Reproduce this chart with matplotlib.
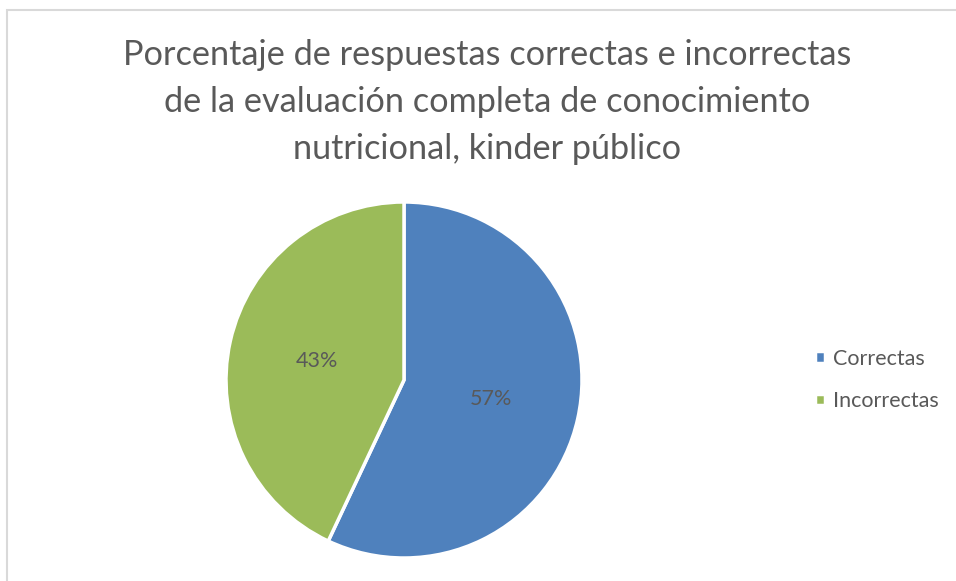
import matplotlib.pyplot as plt
from matplotlib.patches import Rectangle

# Datos
categorias = ['Correctas', 'Incorrectas']
valores = [57, 43]
colores = ['#4F81BD', '#9BBB59']

titulo = ('Porcentaje de respuestas correctas e incorrectas\n'
          'de la evaluación completa de conocimiento\n'
          'nutricional, kinder público')

plt.rcParams['font.family'] = ['Lato', 'DejaVu Sans']
gris = '#595959'

fig = plt.figure(figsize=(9.56, 5.81), dpi=100)

# Marco del gráfico
fig.patches.append(Rectangle((7 / 956, -0.01), 1.0, (581 - 10) / 581 + 0.01,
                             transform=fig.transFigure, fill=False,
                             edgecolor='#D9D9D9', linewidth=1.5))

# Pastel
cx, cy, r = 404, 380, 178
ax = fig.add_axes([(cx - r) / 956, (581 - cy - r) / 581, 2 * r / 956, 2 * r / 581])
wedges, _, autotexts = ax.pie(valores, colors=colores, startangle=90, counterclock=False,
                              autopct='%1.0f%%', pctdistance=0.5,
                              wedgeprops=dict(edgecolor='white', linewidth=2.5),
                              textprops=dict(color=gris, fontsize=15.5))
ax.set_aspect('equal')
ax.set_xlim(-1, 1)
ax.set_ylim(-1, 1)

fig.text(487 / 956, 1 - 102 / 581, titulo, ha='center', va='center',
         fontsize=24.7, color=gris, linespacing=1.56)

fig.legend(wedges, categorias, loc='center left',
           bbox_to_anchor=(815 / 956, 1 - 380 / 581), frameon=False,
           borderpad=0, borderaxespad=0,
           fontsize=15.5, labelcolor=gris, handlelength=0.45, handleheight=0.45,
           handletextpad=0.4, labelspacing=1.05)

plt.savefig('out.png', dpi=100)
